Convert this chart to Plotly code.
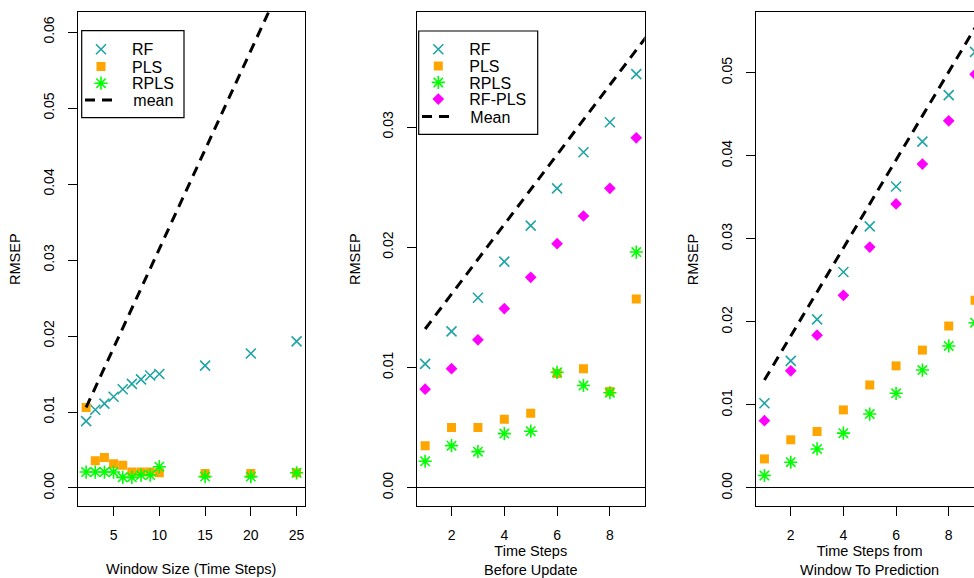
import plotly.graph_objects as go

W, H = 974, 578

# ---------------- data ----------------
# Panel 1: window size
win = [2, 3, 4, 5, 6, 7, 8, 9, 10, 15, 20, 25]
rf1 = [0.0088, 0.0103, 0.0111, 0.0120, 0.0130, 0.0137, 0.0143, 0.0148, 0.0150, 0.0161, 0.0177, 0.0193]
pls1 = [0.0106, 0.0036, 0.0040, 0.0032, 0.0030, 0.0021, 0.0021, 0.0021, 0.0020, 0.0019, 0.0019, 0.0020]
rpls1 = [0.0021, 0.0021, 0.0021, 0.0021, 0.0014, 0.0014, 0.0017, 0.0017, 0.0028, 0.0015, 0.0015, 0.0020]
mean1 = [0.0106, 0.0132, 0.0158, 0.0184, 0.0210, 0.0236, 0.0262, 0.0288, 0.0315, 0.0445, 0.0576, 0.0706]

# Panel 2: time steps before update
steps = [1, 2, 3, 4, 5, 6, 7, 8, 9]
rf2 = [0.0103, 0.0130, 0.0158, 0.0188, 0.0218, 0.0249, 0.0279, 0.0304, 0.0344]
pls2 = [0.0035, 0.0050, 0.0050, 0.0057, 0.0062, 0.0095, 0.0099, 0.0080, 0.0157]
rpls2 = [0.0022, 0.0035, 0.0030, 0.0045, 0.0047, 0.0096, 0.0085, 0.0079, 0.0196]
rfpls2 = [0.0082, 0.0099, 0.0123, 0.0149, 0.0175, 0.0203, 0.0226, 0.0249, 0.0291]
mean_steps = [1, 2, 3, 4, 5, 6, 7, 8, 9, 10]
mean2 = [0.0132, 0.0161, 0.0190, 0.0219, 0.0248, 0.0277, 0.0306, 0.0335, 0.0364, 0.0393]

# Panel 3: time steps from window to prediction
rf3 = [0.0102, 0.0153, 0.0203, 0.0260, 0.0315, 0.0363, 0.0417, 0.0473, 0.0525]
pls3 = [0.0035, 0.0058, 0.0068, 0.0094, 0.0124, 0.0147, 0.0166, 0.0195, 0.0226]
rpls3 = [0.0015, 0.0031, 0.0047, 0.0066, 0.0089, 0.0114, 0.0142, 0.0171, 0.0199]
rfpls3 = [0.0081, 0.0141, 0.0184, 0.0232, 0.0290, 0.0342, 0.0390, 0.0442, 0.0498]
mean3 = [0.0130, 0.0183, 0.0236, 0.0289, 0.0342, 0.0395, 0.0448, 0.0501, 0.0554, 0.0607]

# ---------------- styles ----------------
TEAL = "#20A4A4"
ORANGE = "#FFA500"
GREEN = "#00FF00"
MAGENTA = "#FF00FF"
FONT = "Liberation Sans, Arial, Helvetica, sans-serif"
NB = "\u00a0\u00a0\u00a0"  # keeps legend text clear of the dashed sample

rf_marker = dict(symbol="x-thin-open", size=10, color=TEAL, line=dict(color=TEAL, width=1.6))
pls_marker = dict(symbol="square", size=9, color=ORANGE, line=dict(width=0))
rpls_marker = dict(symbol="asterisk-open", size=11, color=GREEN, line=dict(color=GREEN, width=1.6))
rfpls_marker = dict(symbol="diamond", size=9, color=MAGENTA, line=dict(width=0))
mean_line = dict(color="black", width=3, dash="10px,7px")

fig = go.Figure()

# legend rows (pixel y of each entry) and legend ids, per panel
rows1 = [49.3, 66.7, 83.3, 100.0]
rows2 = [49.3, 66.0, 82.5, 99.2, 116.5]
leg1 = ["legend", "legend3", "legend4", "legend5"]
leg2 = ["legend6", "legend7", "legend8", "legend9", "legend10"]


def add_panel(xa, ya, x, rf, pls, rpls, rfpls, mx, mean, legs, mean_name):
    show = legs is not None
    names = ["RF", "PLS", "RPLS"] + (["RF-PLS"] if rfpls is not None else [])
    series = [rf, pls, rpls] + ([rfpls] if rfpls is not None else [])
    markers = [rf_marker, pls_marker, rpls_marker, rfpls_marker]
    for i, (nm, ys) in enumerate(zip(names, series)):
        fig.add_trace(go.Scatter(x=x, y=ys, mode="markers", name=nm, marker=markers[i],
                                 xaxis=xa, yaxis=ya,
                                 legend=legs[i] if show else "legend", showlegend=show))
    fig.add_trace(go.Scatter(x=mx, y=mean, mode="lines", name=NB + mean_name, line=mean_line,
                             xaxis=xa, yaxis=ya,
                             legend=legs[-1] if show else "legend", showlegend=show))


add_panel("x", "y", win, rf1, pls1, rpls1, None, win, mean1, leg1, "mean")
add_panel("x2", "y2", steps, rf2, pls2, rpls2, rfpls2, mean_steps, mean2, leg2, "Mean")
add_panel("x3", "y3", steps, rf3, pls3, rpls3, rfpls3, mean_steps, mean3, None, "Mean")

ydom = [1 - 506 / H, 1 - 12.3 / H]


def xax(domain, rng, dtick, anchor, mirror=True):
    return dict(domain=domain, range=rng, anchor=anchor, dtick=dtick, tick0=0,
                showgrid=False, zeroline=False, showline=True, linecolor="black",
                linewidth=1.3, mirror=mirror, ticks="outside", ticklen=9, tickwidth=1,
                tickcolor="black", ticklabelstandoff=7,
                tickfont=dict(family=FONT, size=14, color="black"))


def yax(rng, anchor, mirror=True):
    return dict(domain=ydom, range=rng, anchor=anchor, dtick=0.01, tick0=0,
                tickformat=".2f", tickangle=-90,
                showgrid=False, zeroline=True, zerolinecolor="black", zerolinewidth=1.2,
                showline=True, linecolor="black", linewidth=1.3, mirror=mirror,
                ticks="outside", ticklen=9, tickwidth=1, tickcolor="black",
                ticklabelstandoff=8,
                tickfont=dict(family=FONT, size=14, color="black"))


x1d = [77.7 / W, 305 / W]
x2d = [416.7 / W, 644.7 / W]
x3d = [756 / W, 1.0]


def legend_at(px_sym, py, is_line):
    iw = 30 if is_line else 52
    x0 = px_sym - (iw / 2 + 5)
    return dict(x=x0 / W, y=1 - py / H, xanchor="left", yanchor="middle",
                bgcolor="rgba(0,0,0,0)", borderwidth=0, itemwidth=iw,
                font=dict(family=FONT, size=16, color="black"))


legends = {}
for i, (lg, py) in enumerate(zip(leg1, rows1)):
    last = i == len(leg1) - 1
    legends[lg] = legend_at(100.0 if last else 101, py, last)
for i, (lg, py) in enumerate(zip(leg2, rows2)):
    last = i == len(leg2) - 1
    legends[lg] = legend_at(437 if last else 438.3, py, last)

fig.update_layout(
    width=W, height=H,
    margin=dict(l=0, r=0, t=0, b=0),
    paper_bgcolor="white", plot_bgcolor="white",
    font=dict(family=FONT, size=14, color="black"),
    xaxis=xax(x1d, [1.08, 25.92], 5, "y"),
    yaxis=yax([-0.00237, 0.0626], "x"),
    xaxis2=xax(x2d, [0.68, 9.32], 2, "y2"),
    yaxis2=yax([-0.00152, 0.03954], "x2"),
    xaxis3=xax(x3d, [0.68, 8.96], 2, "y3"),
    yaxis3=yax([-0.00217, 0.05727], "x3", mirror=False),
    showlegend=True,
    **legends,
)

# legend frames
for (x0, y0, x1, y1) in [(81.7, 30.7, 184, 117.7), (418.7, 31, 537.7, 134.3)]:
    fig.add_shape(type="rect", xref="paper", yref="paper",
                  x0=x0 / W, x1=x1 / W, y0=1 - y1 / H, y1=1 - y0 / H,
                  line=dict(color="black", width=1.2), fillcolor="white", layer="above")

TF = dict(family=FONT, size=14.5, color="black")
ann = [
    dict(text="RMSEP", x=15 / W, y=1 - 259 / H, textangle=-90),
    dict(text="RMSEP", x=355 / W, y=1 - 259 / H, textangle=-90),
    dict(text="RMSEP", x=693.3 / W, y=1 - 259 / H, textangle=-90),
    dict(text="Window Size (Time Steps)", x=191.3 / W, y=1 - 569 / H),
    dict(text="Time Steps<br>Before Update", x=530.7 / W, y=1 - 560.5 / H),
    dict(text="Time Steps from<br>Window To Prediction", x=869.7 / W, y=1 - 560.5 / H),
]
for a in ann:
    fig.add_annotation(xref="paper", yref="paper", showarrow=False,
                       xanchor="center", yanchor="middle", font=TF, **a)

fig.write_html("out.html", config={"displayModeBar": False},
               post_script="document.body.style.margin='0px';document.body.style.overflow='hidden';")
